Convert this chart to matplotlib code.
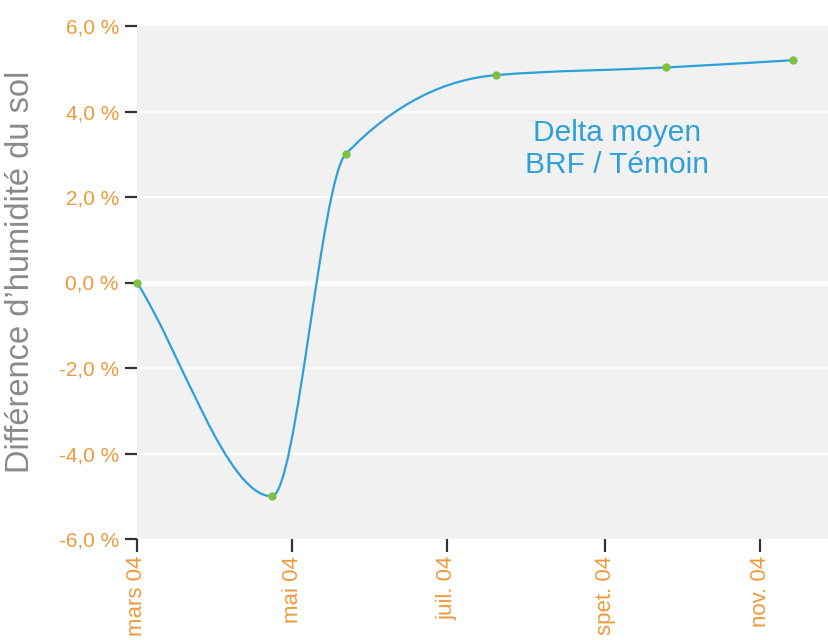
import matplotlib
matplotlib.use("Agg")
import matplotlib.pyplot as plt
import matplotlib.dates as mdates
from matplotlib.path import Path
from matplotlib.patches import PathPatch
import numpy as np
import datetime as dt

# ---- data ----
dates = ["2004-03-01", "2004-04-23", "2004-05-22", "2004-07-20", "2004-09-25", "2004-11-14"]
values = [0.0, -5.0, 3.0, 4.85, 5.03, 5.2]
tick_dates = ["2004-03-01", "2004-05-01", "2004-07-01", "2004-09-01", "2004-11-01"]
tick_labels = ["mars 04", "mai 04", "juil. 04", "spet. 04", "nov. 04"]
y_ticks = [-6, -4, -2, 0, 2, 4, 6]
annotation = "Delta moyen\nBRF / Témoin"
ylabel = "Différence d\u2019humidité du sol"

plt.rcParams['font.family'] = ['Liberation Sans', 'DejaVu Sans']

orange = "#EE9A3C"
blue = "#2DA0D8"
green = "#7CC142"
grey_bg = "#F1F1F1"

x = mdates.date2num([dt.datetime.fromisoformat(d) for d in dates])
y = np.array(values)
xt = mdates.date2num([dt.datetime.fromisoformat(d) for d in tick_dates])

fig = plt.figure(figsize=(8.29, 6.4), dpi=100)
ax = fig.add_axes([137 / 829, 1 - 539 / 640, 1 - 137 / 829, (539 - 26) / 640])
ax.set_facecolor(grey_bg)
for s in ax.spines.values():
    s.set_visible(False)

x0 = x[0]
ax.set_xlim(x0, x0 + 272)
ax.set_ylim(-6, 6)

# gridlines
for yt in y_ticks:
    if yt in (-6, 6):
        continue
    ax.axhline(yt, color="white", lw=3.5 if yt == 0 else 1.6, zorder=1)

# smoothed curve: monotone (Fritsch-Carlson) cubic Hermite through the data points
h = np.diff(x)
d = np.diff(y) / h
n = len(x)
m = np.zeros(n)
m[0] = d[0]
m[-1] = d[-1]
for i in range(1, n - 1):
    if d[i - 1] * d[i] <= 0:
        m[i] = 0.0
    else:
        w1 = 2 * h[i] + h[i - 1]
        w2 = h[i] + 2 * h[i - 1]
        m[i] = (w1 + w2) / (w1 / d[i - 1] + w2 / d[i])
verts = [(x[0], y[0])]
codes = [Path.MOVETO]
for i in range(n - 1):
    c1 = (x[i] + h[i] / 3, y[i] + m[i] * h[i] / 3)
    c2 = (x[i + 1] - h[i] / 3, y[i + 1] - m[i + 1] * h[i] / 3)
    verts += [c1, c2, (x[i + 1], y[i + 1])]
    codes += [Path.CURVE4] * 3
path = Path(verts, codes)
ax.add_patch(PathPatch(path, facecolor="none", edgecolor=blue, lw=1.6, zorder=3, capstyle="round"))

ax.plot(x, y, linestyle="none", marker="o", ms=5, color=green, zorder=4, clip_on=False)

ax.set_yticks(y_ticks)
ax.set_yticklabels([f"{v:.1f}".replace(".", ",") + " %" for v in y_ticks])
ax.set_xticks(xt)
ax.set_xticklabels(tick_labels, rotation=90, va="top", ha="center")

ax.tick_params(axis="y", length=9, width=1.6, color="#333333", labelcolor=orange,
               labelsize=15, pad=4)
ax.tick_params(axis="x", length=9, width=1.6, color="#333333", labelcolor=orange,
               labelsize=16, pad=3)

fig.text(21 / 829, 1 - 272 / 640, ylabel, rotation=90, ha="center", va="center",
         fontsize=23.5, color="#8A8A8A")

ax.text(0.6936, 0.760, annotation, transform=ax.transAxes, ha="center", va="center",
        multialignment="center", fontsize=21.5, color=blue, linespacing=1.15)

fig.savefig("out.png", dpi=100)
